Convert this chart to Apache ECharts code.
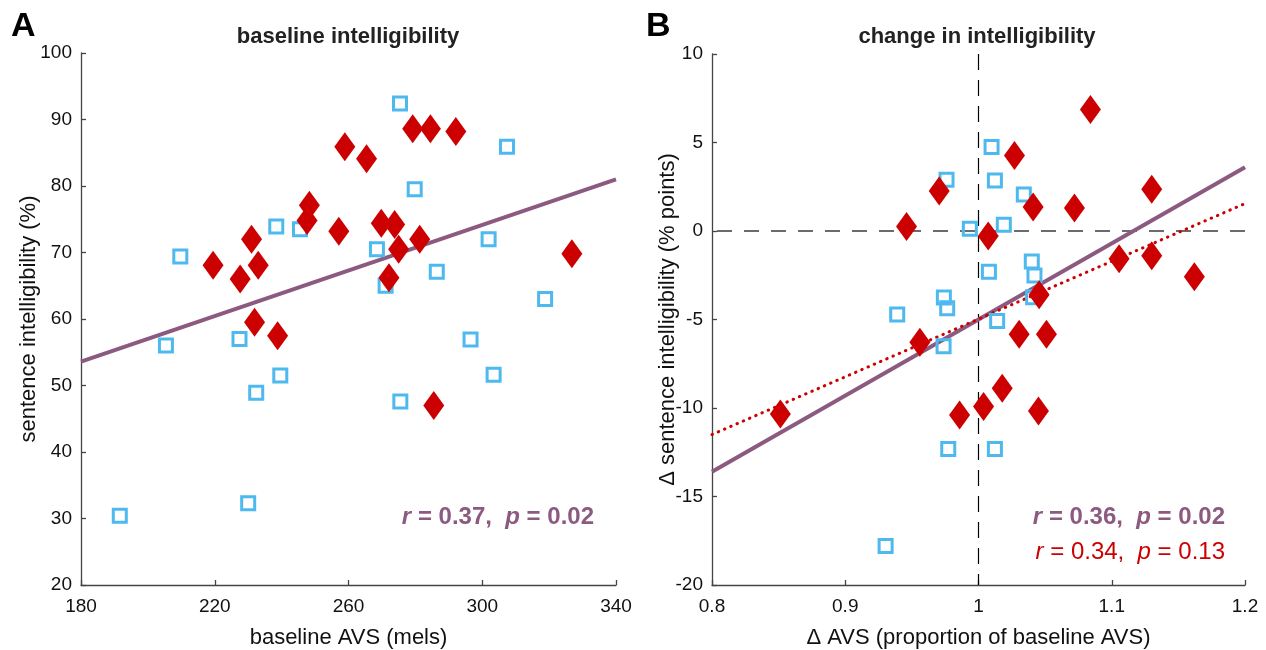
<!DOCTYPE html>
<html>
<head>
<meta charset="utf-8">
<title>Intelligibility vs AVS</title>
<script src="https://cdn.jsdelivr.net/npm/echarts@6/dist/echarts.min.js"></script>
<style>
  html, body { margin: 0; padding: 0; background: #fff; }
  #chart { width: 1266px; height: 650px; }
</style>
</head>
<body>
<div id="chart"></div>
<script>
// ---- Panel A: baseline AVS (mels) vs sentence intelligibility (%) ----
const baseAvsSquares = [209.7, 227.4, 205.4, 238.4, 245.5, 275.4, 307.4, 279.8, 268.5, 271.1,
                        286.4, 301.9, 318.8, 296.5, 239.6, 232.4, 275.5, 303.4, 230.0, 191.6];
const baseIntSquares = [69.4, 57.0, 56.0, 73.9, 73.5, 92.4, 85.9, 79.5, 70.5, 65.0,
                        67.1, 72.0, 63.0, 56.9, 51.5, 48.9, 47.6, 51.6, 32.3, 30.4];
const baseAvsDiamonds = [219.5, 227.6, 231.0, 233.0, 231.9, 238.8, 248.3, 247.6, 257.1, 258.9, 265.4,
                         279.2, 284.5, 292.1, 269.8, 273.8, 275.0, 281.3, 272.1, 326.8, 285.5];
const baseIntDiamonds = [68.1, 66.0, 72.0, 68.1, 59.5, 57.5, 77.1, 74.8, 73.2, 85.9, 84.1,
                         88.6, 88.6, 88.2, 74.4, 74.2, 70.5, 72.0, 66.2, 69.8, 47.0];
const fitLineA = [[180, 53.6], [340, 81.0]];
const xTicksA = [180, 220, 260, 300, 340];
const yTicksA = [20, 30, 40, 50, 60, 70, 80, 90, 100];

// ---- Panel B: change in AVS vs change in intelligibility ----
const dAvsSquares = [0.976, 0.9935, 0.974, 0.9765, 0.939, 0.9738, 1.0098, 1.0123, 1.034, 1.019,
                     1.0078, 1.040, 1.042, 1.041, 1.014, 0.9773, 0.9303, 1.0123];
const dIntSquares = [2.9, 0.13, -3.75, -4.36, -4.72, -6.51, 4.75, 2.85, 2.06, 0.36,
                     -2.30, -1.72, -2.51, -3.74, -5.08, -12.32, -17.79, -12.32];
const dAvsDiamonds = [0.9705, 0.946, 1.084, 1.027, 1.041, 1.072, 1.130, 1.0073, 1.1055, 1.130,
                      1.162, 1.0455, 1.0305, 1.051, 0.956, 0.8513, 0.9858, 1.0038, 1.0178, 1.045];
const dIntDiamonds = [2.26, 0.26, 6.87, 4.26, 1.36, 1.30, 2.36, -0.28, -1.57, -1.40,
                      -2.58, -3.60, -5.83, -5.83, -6.28, -10.34, -10.40, -9.91, -8.89, -10.17];
const fitLineAllB = [[0.8, -13.6], [1.2, 3.6]];
const fitLineDiamondsB = [[0.8, -11.5], [1.2, 1.55]];
const zeroLineB = [[1.2, 0], [0.8, 0]];
const unityLineB = [[1, 10], [1, -20]];
const xTicksB = [0.8, 0.9, 1, 1.1, 1.2];
const yTicksB = [-20, -15, -10, -5, 0, 5, 10];

const BLUE = '#4DB9EE';
const RED = '#CC0000';
const PURPLE = '#8C5A80';
const FONT = '"Liberation Sans", Arial, Helvetica, sans-serif';

const pair = (xs, ys) => xs.map((x, i) => [x, ys[i]]);

function xAxisCfg(idx, min, max, ticks, name, gap) {
  return {
    type: 'value', gridIndex: idx, min: min, max: max,
    name: name, nameLocation: 'middle', nameGap: gap, nameMoveOverlap: false,
    nameTextStyle: { fontSize: 22, color: '#111', fontFamily: FONT },
    axisLine: { show: true, onZero: false, lineStyle: { color: '#444', width: 1.3 } },
    axisTick: { show: true, inside: true, length: 5, customValues: ticks, lineStyle: { color: '#444', width: 1.3 } },
    axisLabel: { customValues: ticks, fontSize: 19, color: '#111', fontFamily: FONT, margin: 12 },
    splitLine: { show: false }
  };
}
function yAxisCfg(idx, min, max, ticks, name, gap) {
  return {
    type: 'value', gridIndex: idx, min: min, max: max,
    name: name, nameLocation: 'middle', nameGap: gap, nameRotate: 90, nameMoveOverlap: false,
    nameTextStyle: { fontSize: 22, color: '#111', fontFamily: FONT },
    axisLine: { show: true, onZero: false, lineStyle: { color: '#444', width: 1.3 } },
    axisTick: { show: true, inside: true, length: 5, customValues: ticks, lineStyle: { color: '#444', width: 1.3 } },
    axisLabel: { customValues: ticks, fontSize: 19, color: '#111', fontFamily: FONT, margin: 9 },
    splitLine: { show: false }
  };
}

const squareStyle = {
  symbol: 'rect', symbolSize: 13,
  itemStyle: { color: 'rgba(0,0,0,0)', borderColor: BLUE, borderWidth: 3, opacity: 1 }
};
const diamondStyle = {
  symbol: 'diamond', symbolSize: [21, 29],
  itemStyle: { color: RED, opacity: 1 }
};

const option = {
  animation: false,
  backgroundColor: '#fff',
  grid: [
    { left: 81, top: 53, width: 535, height: 532, outerBoundsMode: 'none', containLabel: false },
    { left: 712, top: 54, width: 533, height: 531, outerBoundsMode: 'none', containLabel: false }
  ],
  xAxis: [
    xAxisCfg(0, 180, 340, xTicksA, 'baseline AVS (mels)', 42),
    xAxisCfg(1, 0.8, 1.2, xTicksB, 'Δ AVS (proportion of baseline AVS)', 42)
  ],
  yAxis: [
    yAxisCfg(0, 20, 100, yTicksA, 'sentence intelligibility (%)', 41),
    yAxisCfg(1, -20, 10, yTicksB, 'Δ sentence intelligibility (% points)', 33)
  ],
  series: [
    // panel A
    { type: 'line', xAxisIndex: 0, yAxisIndex: 0, data: fitLineA, symbol: 'none', silent: true, z: 1,
      lineStyle: { color: PURPLE, width: 4 } },
    Object.assign({ type: 'scatter', xAxisIndex: 0, yAxisIndex: 0, z: 3,
      data: pair(baseAvsSquares, baseIntSquares) }, squareStyle),
    Object.assign({ type: 'scatter', xAxisIndex: 0, yAxisIndex: 0, z: 4,
      data: pair(baseAvsDiamonds, baseIntDiamonds) }, diamondStyle),
    // panel B reference lines
    { type: 'line', xAxisIndex: 1, yAxisIndex: 1, data: zeroLineB, symbol: 'none', silent: true, z: 1,
      lineStyle: { color: '#6b6b6b', width: 2, type: [15, 12] } },
    { type: 'line', xAxisIndex: 1, yAxisIndex: 1, data: unityLineB, symbol: 'none', silent: true, z: 1,
      lineStyle: { color: '#000', width: 1.2, type: [16, 10] } },
    // panel B fits
    { type: 'line', xAxisIndex: 1, yAxisIndex: 1, data: fitLineAllB, symbol: 'none', silent: true, z: 2,
      lineStyle: { color: PURPLE, width: 4 } },
    { type: 'line', xAxisIndex: 1, yAxisIndex: 1, data: fitLineDiamondsB, symbol: 'none', silent: true, z: 2,
      lineStyle: { color: RED, width: 3, type: [0.5, 6.3], cap: 'round' } },
    Object.assign({ type: 'scatter', xAxisIndex: 1, yAxisIndex: 1, z: 3,
      data: pair(dAvsSquares, dIntSquares) }, squareStyle),
    Object.assign({ type: 'scatter', xAxisIndex: 1, yAxisIndex: 1, z: 4,
      data: pair(dAvsDiamonds, dIntDiamonds) }, diamondStyle)
  ],
  graphic: [
    { type: 'text', x: 11, y: 10, style: { text: 'A', font: 'bold 34px ' + FONT, fill: '#000' } },
    { type: 'text', x: 646, y: 10, style: { text: 'B', font: 'bold 34px ' + FONT, fill: '#000' } },
    { type: 'text', x: 348, y: 37, style: { text: 'baseline intelligibility', font: 'bold 22px ' + FONT,
      fill: '#222', align: 'center', verticalAlign: 'middle' } },
    { type: 'text', x: 977, y: 37, style: { text: 'change in intelligibility', font: 'bold 22px ' + FONT,
      fill: '#222', align: 'center', verticalAlign: 'middle' } },
    { type: 'text', x: 594, y: 517, style: {
      text: '{i|r} = 0.37,  {i|p} = 0.02', font: 'bold 24px ' + FONT, fill: PURPLE,
      align: 'right', verticalAlign: 'middle',
      rich: { i: { fontStyle: 'italic', fontWeight: 'bold', fontSize: 24, fontFamily: FONT, fill: PURPLE } } } },
    { type: 'text', x: 1225, y: 517, style: {
      text: '{i|r} = 0.36,  {i|p} = 0.02', font: 'bold 24px ' + FONT, fill: PURPLE,
      align: 'right', verticalAlign: 'middle',
      rich: { i: { fontStyle: 'italic', fontWeight: 'bold', fontSize: 24, fontFamily: FONT, fill: PURPLE } } } },
    { type: 'text', x: 1225, y: 552, style: {
      text: '{i|r} = 0.34,  {i|p} = 0.13', font: '24px ' + FONT, fill: RED,
      align: 'right', verticalAlign: 'middle',
      rich: { i: { fontStyle: 'italic', fontSize: 24, fontFamily: FONT, fill: RED } } } }
  ]
};

const chart = echarts.init(document.getElementById('chart'), null, { renderer: 'canvas' });
chart.setOption(option);
</script>
</body>
</html>
